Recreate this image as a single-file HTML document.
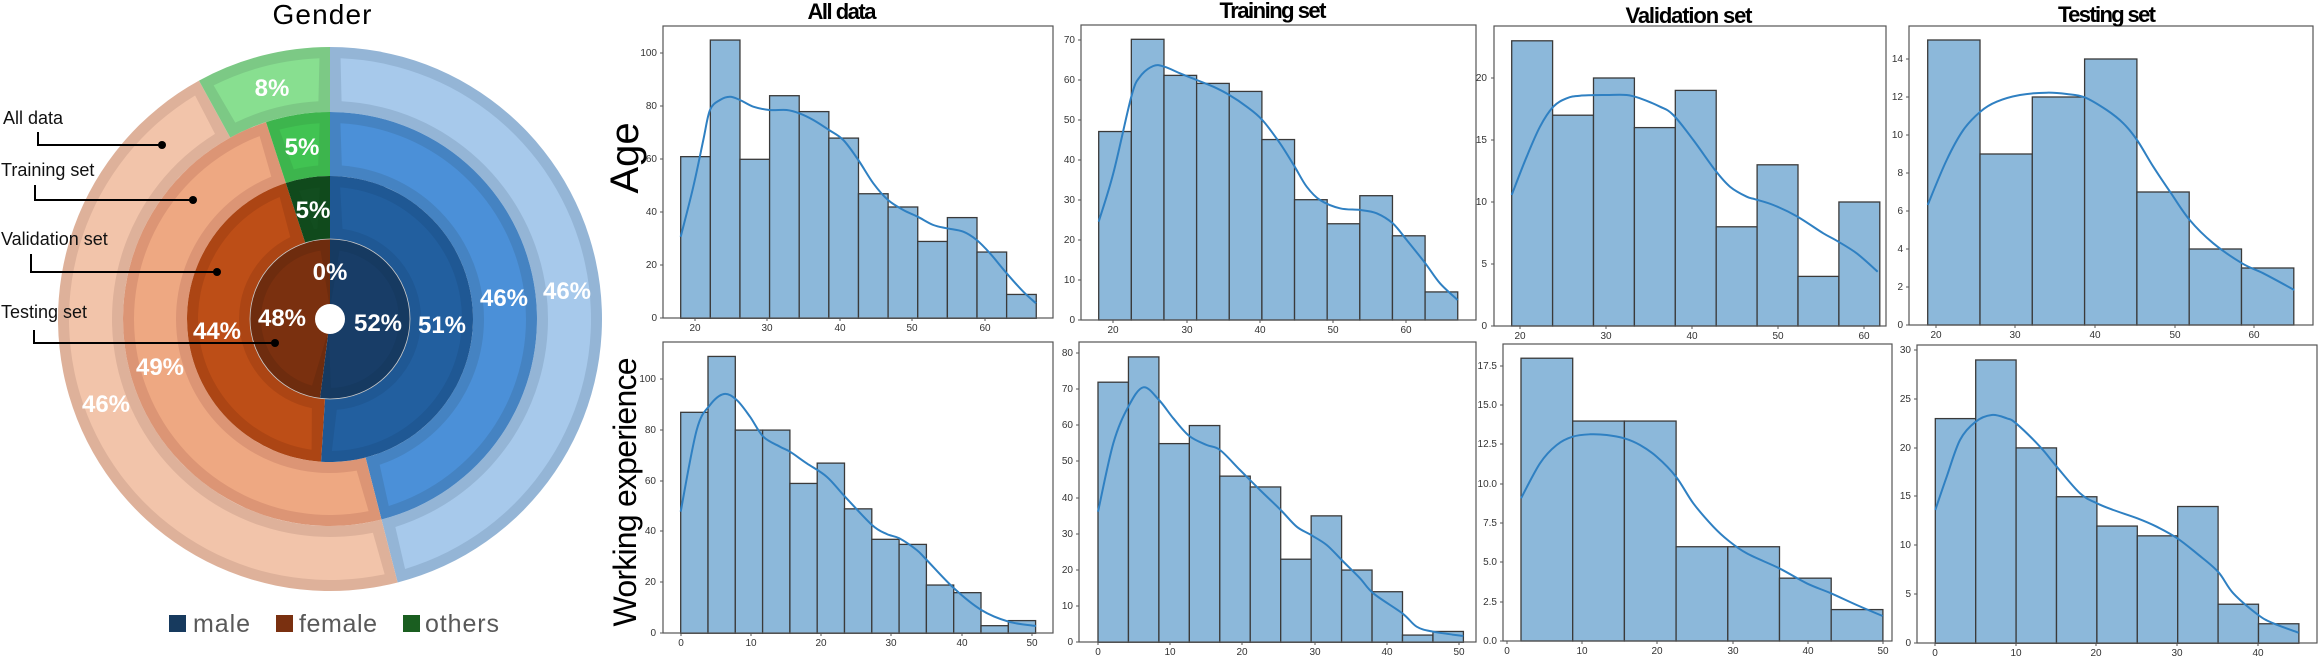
<!DOCTYPE html>
<html><head><meta charset="utf-8">
<style>
html,body{margin:0;padding:0;background:#fff;}
svg{display:block;}
.t{font-family:"Liberation Sans",sans-serif;font-size:10px;fill:#333;}
.pl{font-family:"Liberation Sans",sans-serif;font-weight:bold;font-size:24px;fill:#fff;text-anchor:middle;}
.ll{font-family:"Liberation Sans",sans-serif;font-size:18px;fill:#111;}
.ct{font-family:"Liberation Sans",sans-serif;font-weight:bold;font-size:22px;fill:#000;text-anchor:middle;}
.lg{font-family:"Liberation Sans",sans-serif;font-size:25px;fill:#595959;}
</style></head>
<body>
<svg id="s" xmlns="http://www.w3.org/2000/svg" width="2320" height="660" viewBox="0 0 2320 660">
<rect width="2320" height="660" fill="#fff"/>
<g id="donut"></g>
<g id="hist"></g>

<text x="322" y="24" font-family="Liberation Sans, sans-serif" font-size="28" text-anchor="middle" textLength="99" fill="#000">Gender</text>
<text class="pl" x="272" y="96">8%</text>
<text class="pl" x="302" y="155">5%</text>
<text class="pl" x="313" y="218">5%</text>
<text class="pl" x="330" y="280">0%</text>
<text class="pl" x="282" y="326">48%</text>
<text class="pl" x="378" y="331">52%</text>
<text class="pl" x="442" y="333">51%</text>
<text class="pl" x="217" y="339">44%</text>
<text class="pl" x="160" y="375">49%</text>
<text class="pl" x="106" y="412">46%</text>
<text class="pl" x="504" y="306">46%</text>
<text class="pl" x="567" y="299">46%</text>

<text class="ll" x="3" y="124">All data</text>
<text class="ll" x="1" y="176">Training set</text>
<text class="ll" x="1" y="245">Validation set</text>
<text class="ll" x="1" y="318">Testing set</text>
<g fill="none" stroke="#000" stroke-width="2">
<polyline points="38,132 38,145 162,145"/>
<polyline points="35,185 35,200 193,200"/>
<polyline points="31,254 31,272 217,272"/>
<polyline points="34,330 34,343 275,343"/>
</g>
<g fill="#000">
<circle cx="162" cy="145" r="4"/><circle cx="193" cy="200" r="4"/><circle cx="217" cy="272" r="4"/><circle cx="275" cy="343" r="4"/>
</g>

<rect x="169" y="615" width="17" height="17" fill="#173a5e"/>
<text class="lg" x="193" y="632" textLength="57">male</text>
<rect x="276" y="615" width="17" height="17" fill="#7a3010"/>
<text class="lg" x="299" y="632" textLength="78">female</text>
<rect x="403" y="615" width="17" height="17" fill="#1a5e20"/>
<text class="lg" x="425" y="632" textLength="74">others</text>

<text transform="translate(638,158) rotate(-90)" font-family="Liberation Sans, sans-serif" font-size="40" text-anchor="middle" fill="#000">Age</text>
<text transform="translate(636,492) rotate(-90)" font-family="Liberation Sans, sans-serif" font-size="32" text-anchor="middle" textLength="269" fill="#000">Working experience</text>

<text class="ct" x="842" y="19" textLength="69">All data</text>
<text class="ct" x="1273" y="18" textLength="107">Training set</text>
<text class="ct" x="1689" y="23" textLength="127">Validation set</text>
<text class="ct" x="2107" y="22" textLength="98">Testing set</text>

<g class="t" text-anchor="end">
<text x="657" y="321">0</text><text x="657" y="268">20</text><text x="657" y="215">40</text><text x="657" y="162">60</text><text x="657" y="109">80</text><text x="657" y="56">100</text>
<text x="1075" y="323">0</text><text x="1075" y="283">10</text><text x="1075" y="243">20</text><text x="1075" y="203">30</text><text x="1075" y="163">40</text><text x="1075" y="123">50</text><text x="1075" y="83">60</text><text x="1075" y="43">70</text>
<text x="1487" y="329">0</text><text x="1487" y="267">5</text><text x="1487" y="205">10</text><text x="1487" y="143">15</text><text x="1487" y="81">20</text>
<text x="1903" y="328">0</text><text x="1903" y="290">2</text><text x="1903" y="252">4</text><text x="1903" y="214">6</text><text x="1903" y="176">8</text><text x="1903" y="138">10</text><text x="1903" y="100">12</text><text x="1903" y="62">14</text>
<text x="656" y="636">0</text><text x="656" y="585">20</text><text x="656" y="534">40</text><text x="656" y="484">60</text><text x="656" y="433">80</text><text x="656" y="382">100</text>
<text x="1073" y="645">0</text><text x="1073" y="609">10</text><text x="1073" y="573">20</text><text x="1073" y="537">30</text><text x="1073" y="501">40</text><text x="1073" y="464">50</text><text x="1073" y="428">60</text><text x="1073" y="392">70</text><text x="1073" y="356">80</text>
<text x="1497" y="644">0.0</text><text x="1497" y="605">2.5</text><text x="1497" y="565">5.0</text><text x="1497" y="526">7.5</text><text x="1497" y="487">10.0</text><text x="1497" y="447">12.5</text><text x="1497" y="408">15.0</text><text x="1497" y="369">17.5</text>
<text x="1911" y="646">0</text><text x="1911" y="597">5</text><text x="1911" y="548">10</text><text x="1911" y="499">15</text><text x="1911" y="451">20</text><text x="1911" y="402">25</text><text x="1911" y="353">30</text>
</g>
<g class="t" text-anchor="middle">
<text x="695" y="331">20</text><text x="767" y="331">30</text><text x="840" y="331">40</text><text x="912" y="331">50</text><text x="985" y="331">60</text>
<text x="1113" y="333">20</text><text x="1187" y="333">30</text><text x="1260" y="333">40</text><text x="1333" y="333">50</text><text x="1406" y="333">60</text>
<text x="1520" y="339">20</text><text x="1606" y="339">30</text><text x="1692" y="339">40</text><text x="1778" y="339">50</text><text x="1864" y="339">60</text>
<text x="1936" y="338">20</text><text x="2015" y="338">30</text><text x="2095" y="338">40</text><text x="2175" y="338">50</text><text x="2254" y="338">60</text>
<text x="681" y="646">0</text><text x="751" y="646">10</text><text x="821" y="646">20</text><text x="891" y="646">30</text><text x="962" y="646">40</text><text x="1032" y="646">50</text>
<text x="1098" y="655">0</text><text x="1170" y="655">10</text><text x="1242" y="655">20</text><text x="1315" y="655">30</text><text x="1387" y="655">40</text><text x="1459" y="655">50</text>
<text x="1507" y="654">0</text><text x="1582" y="654">10</text><text x="1657" y="654">20</text><text x="1733" y="654">30</text><text x="1808" y="654">40</text><text x="1883" y="654">50</text>
<text x="1935" y="656">0</text><text x="2016" y="656">10</text><text x="2096" y="656">20</text><text x="2177" y="656">30</text><text x="2258" y="656">40</text>
</g>
</svg>
<script>
var NS="http://www.w3.org/2000/svg";
function el(p,n,a){var e=document.createElementNS(NS,n);for(var k in a)e.setAttribute(k,a[k]);p.appendChild(e);return e;}
var D=document.getElementById("donut"),cx=330,cy=319;
function pt(r,a){a=a*Math.PI/180;return [cx+r*Math.sin(a),cy-r*Math.cos(a)];}
function sector(ro,ri,a1,a2,d){
 var ao=d/ro*180/Math.PI, ai=ri>0?d/ri*180/Math.PI:0;
 ro-=d; ri=ri>0?ri+d:d;
 var b1=a1+ao,b2=a2-ao,c1=a1+ai,c2=a2-ai;
 if(ri<=d+0.1&&d>0){c1=a1;c2=a2;}
 var p1=pt(ro,b1),p2=pt(ro,b2),p3=pt(ri,c2),p4=pt(ri,c1);
 var lo=(b2-b1)>180?1:0, li=(c2-c1)>180?1:0;
 return "M"+p1+" A"+ro+","+ro+" 0 "+lo+" 1 "+p2+" L"+p3+" A"+ri+","+ri+" 0 "+li+" 0 "+p4+"Z";
}
var rings=[
 [272,207,[46,46,8],["#94b5d6","#a7c9eb","#deb19a","#f2c4aa","#7cc985","#88df90"]],
 [207,143,[46,49,5],["#4583c2","#4b90d8","#dc9575","#eea882","#3db54d","#41c352"]],
 [143,80,[51,44,5],["#1f5894","#225f9f","#ac4514","#bd4e17","#104a1c","#124d1f"]],
 [80,0.01,[52,48,0],["#163a61","#183d67","#6e2c0e","#7a300f","#0f3f18","#0f3f18"]]
];
rings.forEach(function(R){
 var a=0;
 for(var i=0;i<3;i++){
  var s=R[2][i]*3.6; if(s<=0)continue;
  var a2=a+s; if(i==2)a2=360;
  el(D,"path",{d:sector(R[0],R[1],a,a2,0),fill:R[3][2*i]});
  el(D,"path",{d:sector(R[0],R[1]<1?0.01:R[1],a,a2,11),fill:R[3][2*i+1]});
  a=a2;
 }
});
el(D,"circle",{cx:cx,cy:cy,r:80,fill:"none",stroke:"#c9c9c9","stroke-width":0.8});
el(D,"circle",{cx:cx,cy:cy,r:15,fill:"#fff"});
var H=document.getElementById("hist");
var P=[
 {f:[663,26,1053,318],x0:680.7,w:29.63,b:318.3,k:2.65,v:[61,105,60,84,78,68,47,42,29,38,25,9],
  yt:[318,265,212,159,106,53],xt:[695,767,840,912,985],o:[640,0],
  kd:[[122,710],[160,560],[190,420],[210,330],[240,300],[270,290],[300,300],[340,320],[388,330],[440,330],[478,340],[520,360],[567,390],[610,420],[655,480],[700,550],[744,600],[790,630],[833,650],[880,675],[921,685],[970,695],[1010,720],[1050,760],[1100,820],[1150,875],[1188,910]]},
 {f:[1081,25,1476,320],x0:1098.7,w:32.64,b:320,k:4.01,v:[47,70,61,59,57,45,30,24,31,21,7],
  yt:[320,280,240,200,160,120,80,40],xt:[1113,1187,1260,1333,1406],o:[1040,0],
  kd:[[176,665],[220,520],[274,290],[300,230],[340,198],[373,200],[420,220],[470,240],[520,260],[568,285],[620,320],[667,360],[720,430],[764,500],[800,560],[840,600],[900,625],[960,630],[1010,640],[1058,670],[1100,720],[1156,790],[1200,850],[1253,900]]},
 {f:[1494,26,1886,326],x0:1511.7,w:40.9,b:326,k:12.4,v:[23,17,20,16,19,8,13,4,10],
  yt:[326,264,202,140,78],xt:[1520,1606,1692,1778,1864],o:[1440,0],
  kd:[[215,585],[260,470],[300,380],[340,320],[380,295],[420,287],[500,285],[560,285],[600,295],[660,320],[700,345],[760,420],[825,510],[870,560],[920,590],[946,598],[1000,615],[1069,648],[1150,700],[1190,722],[1250,760],[1313,815]]},
 {f:[1909,26,2313,325],x0:1927.7,w:52.3,b:325,k:19,v:[15,9,12,14,7,4,3],
  yt:[325,287,249,211,173,135,97,59],xt:[1936,2015,2095,2175,2254],o:[1880,0],
  kd:[[143,615],[200,480],[250,390],[301,335],[350,305],[420,285],[500,278],[560,282],[614,292],[680,330],[730,370],[771,420],[820,500],[870,575],[929,660],[1000,730],[1086,790],[1150,820],[1243,870]]},
 {f:[663,342,1053,633],x0:680.7,w:27.3,b:633.3,k:2.54,v:[87,109,80,80,59,67,49,37,35,19,16,3,5],
  yt:[633,582,531,481,430,379],xt:[681,751,821,891,962,1032],o:[600,330],
  kd:[[242,545],[290,300],[330,225],[372,192],[410,210],[450,260],[490,320],[540,350],[570,365],[620,400],[680,440],[735,500],[816,585],[860,612],[898,625],[950,660],[980,690],[1062,775],[1144,840],[1226,875],[1308,888]]},
 {f:[1079,342,1476,642],x0:1098,w:30.45,b:642.3,k:3.6125,v:[72,79,55,60,46,43,23,35,20,14,2,3],
  yt:[642,606,570,534,498,461,425,389,353],xt:[1098,1170,1242,1315,1387,1459],o:[1040,330],
  kd:[[174,545],[220,340],[265,230],[310,172],[357,210],[400,265],[448,318],[500,345],[540,360],[600,420],[660,480],[722,540],[770,590],[813,615],[860,645],[905,690],[960,745],[1000,790],[1087,850],[1130,890],[1179,905],[1270,918]]},
 {f:[1503,344,1892,641],x0:1521,w:51.7,b:641,k:15.71,v:[18,14,14,6,6,4,2],
  yt:[641,602,562,523,484,444,405,366],xt:[1507,1582,1657,1733,1808,1883],o:[1440,330],
  kd:[[243,505],[300,400],[350,345],[398,320],[450,313],[500,315],[553,325],[600,345],[650,380],[708,440],[760,520],[820,590],[863,630],[920,670],[1018,715],[1100,760],[1173,790],[1250,825],[1328,858]]},
 {f:[1917,345,2317,643],x0:1935.3,w:40.4,b:643.3,k:9.77,v:[23,29,20,15,12,11,14,4,2],
  yt:[643,594,545,496,448,399,350],xt:[1935,2016,2096,2177,2258],o:[1880,330],
  kd:[[166,540],[200,440],[240,330],[287,275],[335,255],[380,265],[408,280],[480,350],[530,410],[600,490],[651,520],[700,540],[772,565],[830,590],[892,625],[950,670],[1014,725],[1060,790],[1135,855],[1180,880],[1256,908]]}
];
function smooth(p){
 var d="M"+p[0][0].toFixed(1)+","+p[0][1].toFixed(1);
 for(var i=0;i<p.length-1;i++){
  var p0=p[i-1]||p[i],p1=p[i],p2=p[i+1],p3=p[i+2]||p2;
  var c1=[p1[0]+(p2[0]-p0[0])/6,p1[1]+(p2[1]-p0[1])/6],c2=[p2[0]-(p3[0]-p1[0])/6,p2[1]-(p3[1]-p1[1])/6];
  d+=" C"+c1[0].toFixed(1)+","+c1[1].toFixed(1)+" "+c2[0].toFixed(1)+","+c2[1].toFixed(1)+" "+p2[0].toFixed(1)+","+p2[1].toFixed(1);
 }
 return d;
}
P.forEach(function(q){
 var f=q.f;
 q.v.forEach(function(v,i){
  var h=v*q.k;
  el(H,"rect",{x:q.x0+i*q.w,y:q.b-h,width:q.w,height:h,fill:"#8cb8da",stroke:"#3a3a3a","stroke-width":1.3});
 });
 var pts=q.kd.map(function(a){return [q.o[0]+a[0]/3,q.o[1]+a[1]/3];});
 el(H,"path",{d:smooth(pts),fill:"none",stroke:"#2f80c2","stroke-width":2});
 el(H,"rect",{x:f[0],y:f[1],width:f[2]-f[0],height:f[3]-f[1],fill:"none",stroke:"#555","stroke-width":1.2});
 q.yt.forEach(function(y){el(H,"line",{x1:f[0]-3,x2:f[0],y1:y,y2:y,stroke:"#555","stroke-width":1});});
 q.xt.forEach(function(x){el(H,"line",{x1:x,x2:x,y1:f[3],y2:f[3]+3,stroke:"#555","stroke-width":1});});
});
</script>
</body></html>
